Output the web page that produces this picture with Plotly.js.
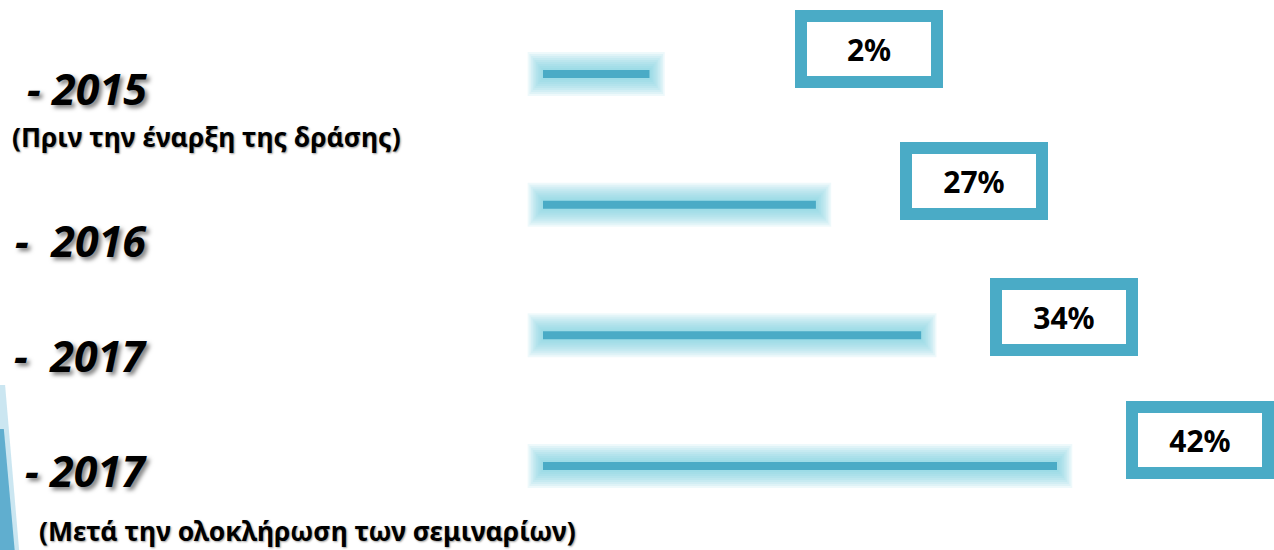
<!DOCTYPE html>
<html>
<head>
<meta charset="utf-8">
<script src="https://cdn.plot.ly/plotly-3.0.1.min.js"></script>
<style>html,body{margin:0;padding:0;background:#fff;}#chart{width:1274px;height:550px;}</style>
</head>
<body>
<div id="chart"></div>
<script>
// ---- data ----
const rowKeys = ['r2015', 'r2016', 'r2017a', 'r2017b'];
const yearLabels = ['-\u00a02015', '-\u00a0\u00a02016', '-\u00a0\u00a02017', '-\u00a02017'];
const subLabels = ['(Πριν την έναρξη της δράσης)', '', '', '(Μετά την ολοκλήρωση των σεμιναρίων)'];
const pctValues = [2, 27, 34, 42];                 // values printed in the boxes (%)
const barDrawn = [8.7, 22.3, 30.9, 42];            // bar lengths as drawn in the graphic (same units as the 42% bar)

// ---- layout constants (px) ----
const W = 1274, H = 550;
const x0px = 543;                 // where bars start
const k = 514 / 42;               // px per unit
const y0px = 74, y3px = 466;      // first / last row centre
const rowPx = (y3px - y0px) / 3;
const labelShift = [14, 36, 20, 4];       // year label offset below row
const boxDX = [220, 158, 143, 143];       // box centre offset right of bar end
const boxDY = [-25, -24, -18, -26];       // box centre offset from row

const barColor = '#4aabc6';
const glowColor = '#7fcde3';

const traces = [];
for (let h = 44; h >= 12; h -= 4) {
  const pad = (h - 8) / 2 * 0.85;
  traces.push({
    type: 'bar', orientation: 'h', y: rowKeys,
    x: barDrawn.map(v => v + 2 * pad / k),
    base: barDrawn.map(() => -pad / k),
    width: h / rowPx,
    marker: {color: glowColor, opacity: 0.13, line: {width: 0}},
    hoverinfo: 'skip', showlegend: false
  });
}
traces.push({
  type: 'bar', orientation: 'h', y: rowKeys, x: barDrawn,
  width: 8 / rowPx,
  marker: {color: barColor, line: {width: 0}},
  hoverinfo: 'skip', showlegend: false
});

const shadow = '3px 3px 4px rgba(0,0,0,0.5)';
const annotations = [];
rowKeys.forEach((r, i) => {
  annotations.push({
    xref: 'paper', x: 149 / W, xanchor: 'right', yref: 'y', y: r,
    yshift: -labelShift[i], yanchor: 'middle', showarrow: false,
    text: yearLabels[i],
    font: {family: 'Noto Sans', size: 43, color: '#000', weight: 700, style: 'italic', shadow: shadow}
  });
  annotations.push({
    xref: 'x', x: barDrawn[i], xshift: boxDX[i], yref: 'y', y: r, yshift: -boxDY[i],
    xanchor: 'center', yanchor: 'middle', showarrow: false,
    text: pctValues[i] + '%',
    width: 124, height: 54, borderpad: 0, borderwidth: 12,
    bordercolor: barColor, bgcolor: '#fff',
    font: {family: 'Noto Sans', size: 30, color: '#000', weight: 700}
  });
});
const subFont = {family: 'Noto Sans', size: 26.5, color: '#000', weight: 700, shadow: '1px 1px 2px rgba(0,0,0,0.4)'};
annotations.push({
  xref: 'paper', x: 10 / W, xanchor: 'left', yref: 'y', y: rowKeys[0], yshift: -63,
  yanchor: 'middle', showarrow: false, text: subLabels[0], font: subFont
});
annotations.push({
  xref: 'paper', x: 37 / W, xanchor: 'left', yref: 'y', y: rowKeys[3], yshift: -65,
  yanchor: 'middle', showarrow: false, text: subLabels[3], font: subFont
});

const layout = {
  width: W, height: H,
  margin: {l: 0, r: 0, t: 0, b: 0, pad: 0},
  paper_bgcolor: '#fff', plot_bgcolor: '#fff',
  barmode: 'overlay', showlegend: false,
  xaxis: {range: [-x0px / k, (W - x0px) / k], visible: false, fixedrange: true},
  yaxis: {type: 'category', categoryarray: rowKeys, categoryorder: 'array',
          range: [3 + (H - y3px) / rowPx, -y0px / rowPx], visible: false, fixedrange: true},
  annotations: annotations,
  shapes: [
    {type: 'path', xref: 'paper', yref: 'paper', layer: 'below',
     path: 'M 0 0.30 L 0.004 0.30 L 0.0150 0 L 0 0 Z',
     fillcolor: 'rgba(140,200,225,0.45)', line: {width: 0}},
    {type: 'path', xref: 'paper', yref: 'paper', layer: 'below',
     path: 'M 0 0.22 L 0.003 0.22 L 0.0115 0 L 0 0 Z',
     fillcolor: 'rgba(60,155,195,0.75)', line: {width: 0}}
  ]
};

Plotly.newPlot('chart', traces, layout, {displayModeBar: false, staticPlot: true});
</script>
</body>
</html>
